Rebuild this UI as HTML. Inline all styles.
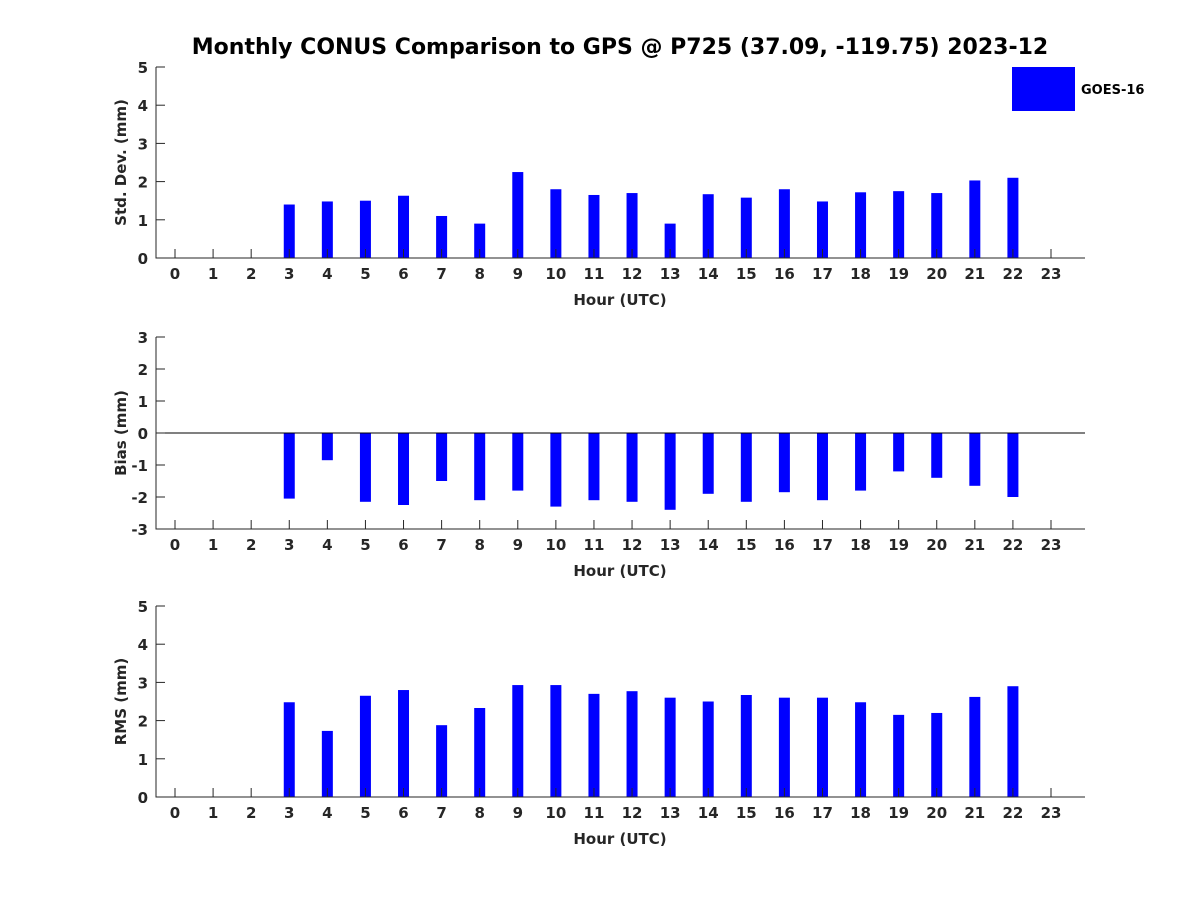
<!DOCTYPE html>
<html><head><meta charset="utf-8"><style>
body{margin:0;background:#fff}
svg text{font-family:"DejaVu Sans","Liberation Sans",sans-serif;font-weight:bold;fill:#262626}
</style></head><body>
<svg id="chart" width="1200" height="900" xmlns="http://www.w3.org/2000/svg">
<rect width="1200" height="900" fill="#fff"/>
<text x="620" y="54" font-size="22" text-anchor="middle" style="fill:#000">Monthly CONUS Comparison to GPS @ P725 (37.09, -119.75) 2023-12</text>
<g>
<rect x="1012" y="67" width="63" height="44" fill="#0000ff"/>
<text x="1081" y="94" font-size="13" style="fill:#000">GOES-16</text>
</g>
</svg>
<script>
const hours = [0,1,2,3,4,5,6,7,8,9,10,11,12,13,14,15,16,17,18,19,20,21,22,23];
const stdDev = [null,null,null,1.4,1.48,1.5,1.63,1.1,0.9,2.25,1.8,1.65,1.7,0.9,1.67,1.58,1.8,1.48,1.72,1.75,1.7,2.03,2.1,null];
const bias = [null,null,null,-2.05,-0.85,-2.15,-2.25,-1.5,-2.1,-1.8,-2.3,-2.1,-2.15,-2.4,-1.9,-2.15,-1.85,-2.1,-1.8,-1.2,-1.4,-1.65,-2.0,null];
const rms = [null,null,null,2.48,1.73,2.65,2.8,1.88,2.33,2.93,2.93,2.7,2.77,2.6,2.5,2.67,2.6,2.6,2.48,2.15,2.2,2.62,2.9,null];
const stdTicks = [0,1,2,3,4,5];
const biasTicks = [-3,-2,-1,0,1,2,3];
const rmsTicks = [0,1,2,3,4,5];

const svg = document.getElementById('chart');
const NS = 'http://www.w3.org/2000/svg';
function mk(tag, attrs, parent){const e=document.createElementNS(NS,tag);for(const k in attrs)e.setAttribute(k,attrs[k]);(parent||svg).appendChild(e);return e;}
const X0=156, X1=1085;
function xs(h){return 175 + h*(1051-175)/23;}

function panel(name, vals, ticks, top, bottom, ymin, ymax, ylabel){
  const g = mk('g',{});
  
  
  const ys = v => bottom - (v-ymin)/(ymax-ymin)*(bottom-top);
  // bars
  vals.forEach((v,i)=>{
    if(v===null) return;
    const y0=ys(0), y1=ys(v);
    const r = mk('rect',{x:xs(hours[i])-5.5,y:Math.min(y0,y1),width:11,height:Math.abs(y1-y0),fill:'#0000ff'},g);
    
    
  });
  if(ymin<0){
    const z = mk('line',{x1:X0,x2:X1,y1:ys(0),y2:ys(0),stroke:'#000','stroke-width':1},g);
    
    
  }
  // axes
  const ax = mk('path',{d:`M${X0} ${top}V${bottom}H${X1}`,fill:'none',stroke:'#262626','stroke-width':1},g);
  
  
  hours.forEach(h=>{
    mk('line',{x1:xs(h),x2:xs(h),y1:bottom,y2:bottom-9,stroke:'#262626'},g);
    const t = mk('text',{x:xs(h),y:bottom+21,'font-size':15,'text-anchor':'middle'},g);
    t.textContent=h;
    
    
  });
  ticks.forEach(v=>{
    mk('line',{x1:X0,x2:X0+9,y1:ys(v),y2:ys(v),stroke:'#262626'},g);
    const t = mk('text',{x:X0-8,y:ys(v)+6,'font-size':15,'text-anchor':'end'},g);
    t.textContent=v;
    
    
  });
  const xl = mk('text',{x:620,y:bottom+47,'font-size':15,'text-anchor':'middle'},g);
  xl.textContent='Hour (UTC)';
  
  
  const cy=(top+bottom)/2;
  const yl = mk('text',{x:126,y:cy,'font-size':15,'text-anchor':'middle',transform:`rotate(-90 126 ${cy})`},g);
  yl.textContent=ylabel;
  
  
}
panel('std-dev', stdDev, stdTicks, 67, 258, 0, 5, 'Std. Dev. (mm)');
panel('bias', bias, biasTicks, 337, 529, -3, 3, 'Bias (mm)');
panel('rms', rms, rmsTicks, 606, 797, 0, 5, 'RMS (mm)');
</script>
</body></html>
